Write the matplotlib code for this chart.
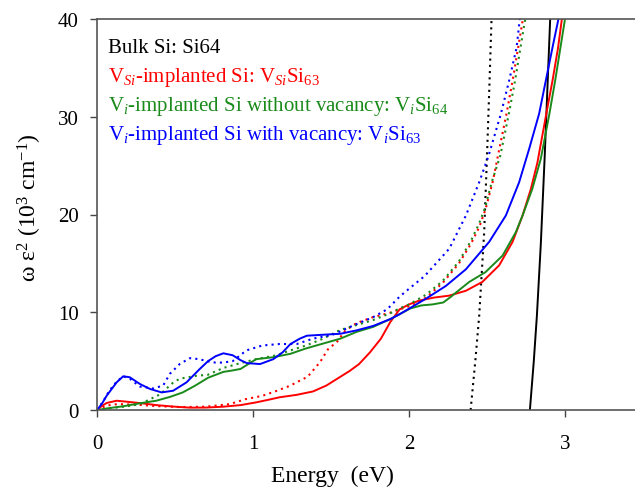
import matplotlib
matplotlib.use("Agg")
import matplotlib.pyplot as plt

plt.rcParams['font.family'] = ['Liberation Serif', 'DejaVu Serif']
plt.rcParams['mathtext.fontset'] = 'custom'
plt.rcParams['mathtext.rm'] = 'Liberation Serif'
plt.rcParams['mathtext.it'] = 'Liberation Serif:italic'
plt.rcParams['mathtext.bf'] = 'Liberation Serif:bold'

# ---- data (energy in eV, omega*eps2 in 10^3 cm^-1) ----
bulk_solid_x = [2.775, 2.80, 2.82, 2.845, 2.87, 2.89, 2.905, 2.915]
bulk_solid_y = [0, 5, 9.7, 17, 26, 34, 40, 44]
bulk_dot_x = [2.395, 2.425, 2.45, 2.482, 2.50, 2.515, 2.529, 2.535]
bulk_dot_y = [0, 5, 9.65, 18.2, 26, 33, 40, 43]

vsi_solid_x = [0, 0.03, 0.062, 0.126, 0.19, 0.28, 0.38, 0.49, 0.595, 0.7, 0.81, 0.92, 1.02, 1.1,
               1.17, 1.28, 1.385, 1.47, 1.56, 1.62, 1.68, 1.75, 1.82, 1.88, 1.94, 2.0, 2.067, 2.16,
               2.258, 2.365, 2.47, 2.578, 2.664, 2.728, 2.781, 2.823, 2.88, 2.92, 2.955, 2.98, 2.99]
vsi_solid_y = [0, 0.4, 0.72, 0.95, 0.85, 0.7, 0.5, 0.35, 0.24, 0.25, 0.34, 0.5, 0.78, 1.05,
               1.3, 1.55, 1.9, 2.5, 3.4, 4.0, 4.7, 5.9, 7.3, 9.0, 10.3, 10.8, 11.2, 11.5,
               11.7, 12.2, 13.1, 14.8, 17.2, 19.9, 22.6, 25.3, 30.3, 33.7, 37.0, 40, 42]
vsi_dot_x = [0, 0.06, 0.13, 0.25, 0.38, 0.53, 0.7, 0.85, 0.95, 1.06, 1.15, 1.24, 1.3, 1.35, 1.43,
             1.48, 1.54, 1.59, 1.665, 1.77, 1.88, 1.94, 2.0, 2.11, 2.216, 2.32, 2.397, 2.45, 2.49,
             2.536, 2.57, 2.625, 2.664, 2.70, 2.73, 2.74]
vsi_dot_y = [0, 0.45, 0.6, 0.55, 0.4, 0.3, 0.34, 0.6, 1.1, 1.45, 1.95, 2.5, 3.0, 3.4, 4.9,
             6.2, 7.0, 8.1, 8.9, 9.5, 9.95, 10.3, 10.6, 11.5, 13.0, 15.0, 17.0, 18.7, 20.5,
             23.3, 26.0, 30.3, 33.7, 37.1, 40, 42]

vi64_solid_x = [0, 0.08, 0.168, 0.28, 0.38, 0.47, 0.55, 0.63, 0.712, 0.81, 0.87, 0.92, 0.97, 1.02,
                1.13, 1.24, 1.34, 1.45, 1.56, 1.665, 1.77, 1.88, 1.94, 2.01, 2.08, 2.15, 2.22, 2.27,
                2.30, 2.386, 2.49, 2.6, 2.685, 2.728, 2.79, 2.845, 2.90, 2.937, 2.97, 3.0, 3.01]
vi64_solid_y = [0, 0.2, 0.38, 0.7, 0.95, 1.35, 1.8, 2.5, 3.3, 3.9, 4.05, 4.2, 4.7, 5.2,
                5.4, 5.75, 6.3, 6.8, 7.3, 8.0, 8.5, 9.3, 9.8, 10.4, 10.7, 10.8, 11.0, 11.6,
                12.0, 13.1, 14.1, 15.8, 18.2, 19.9, 22.6, 25.7, 30.3, 33.7, 37.0, 40, 41]
vi64_dot_x = [0, 0.1, 0.2, 0.275, 0.34, 0.404, 0.488, 0.53, 0.638, 0.71, 0.81, 0.92, 1.02, 1.15,
              1.24, 1.34, 1.45, 1.56, 1.665, 1.77, 1.88, 1.94, 2.0, 2.11, 2.216, 2.32, 2.397, 2.45,
              2.49, 2.53, 2.585, 2.64, 2.68, 2.715, 2.745, 2.755]
vi64_dot_y = [0, 0.2, 0.4, 0.6, 1.1, 1.6, 2.8, 3.2, 3.5, 3.6, 4.3, 4.8, 5.2, 5.6,
              6.1, 6.6, 7.3, 8.2, 8.7, 9.2, 9.9, 10.4, 10.8, 11.8, 13.2, 15.2, 17.3, 19.1,
              20.8, 23.3, 26.0, 30.3, 33.7, 37.1, 40, 42]

vi63_solid_x = [0, 0.03, 0.062, 0.126, 0.168, 0.21, 0.275, 0.34, 0.414, 0.488, 0.574, 0.659, 0.712,
                0.76, 0.81, 0.87, 0.92, 0.96, 1.045, 1.13, 1.19, 1.24, 1.3, 1.345, 1.45, 1.56, 1.665,
                1.77, 1.88, 1.94, 2.11, 2.237, 2.365, 2.514, 2.621, 2.706, 2.77, 2.834, 2.877, 2.92,
                2.958, 2.97]
vi63_solid_y = [0, 0.6, 1.46, 2.83, 3.45, 3.35, 2.66, 2.15, 1.8, 1.97, 2.83, 4.2, 5.0,
                5.5, 5.8, 5.6, 5.1, 4.8, 4.7, 5.2, 5.9, 6.75, 7.3, 7.6, 7.7, 7.8, 8.15,
                8.6, 9.3, 9.8, 11.4, 12.7, 14.4, 17.2, 19.9, 23.3, 26.7, 30.3, 33.7, 37.1,
                40, 41]
vi63_dot_x = [0, 0.04, 0.08, 0.126, 0.168, 0.21, 0.275, 0.36, 0.424, 0.467, 0.53, 0.595, 0.659,
              0.70, 0.76, 0.81, 0.87, 0.958, 1.06, 1.17, 1.28, 1.385, 1.51, 1.665, 1.77, 1.86,
              1.94, 2.0, 2.10, 2.258, 2.365, 2.45, 2.51, 2.589, 2.642, 2.69, 2.71, 2.715]
vi63_dot_y = [0, 0.9, 2.0, 2.9, 3.45, 3.2, 2.4, 2.2, 2.5, 3.7, 4.7, 5.3, 5.2,
              5.0, 4.85, 4.85, 5.0, 6.1, 6.6, 6.75, 6.75, 7.3, 7.7, 8.8, 9.5, 10.3,
              11.6, 12.4, 13.7, 16.5, 19.9, 23.3, 26.0, 30.3, 33.7, 37.1, 40, 41]

legend_labels = [
    "Bulk Si: Si64",
    r"V$_{Si}$-implanted Si: V$_{Si}$Si$_{\mathrm{63}}$",
    r"V$_{i}$-implanted Si without vacancy: V$_{i}$Si$_{\mathrm{64}}$",
    r"V$_{i}$-implanted Si with vacancy: V$_{i}$Si$_{\mathrm{63}}$",
]
colors = ["black", "#ff0000", "#1a8a1a", "#0000ff"]
xticks = [0, 1, 2, 3]
yticks = [0, 10, 20, 30, 40]

# ---- figure ----
fig = plt.figure(figsize=(6.35, 4.89), dpi=100)
ax = fig.add_axes([97 / 635, 78 / 489, 3.5 * 156 / 635, 391 / 489])

series = [
    (bulk_solid_x, bulk_solid_y, bulk_dot_x, bulk_dot_y),
    (vsi_solid_x, vsi_solid_y, vsi_dot_x, vsi_dot_y),
    (vi64_solid_x, vi64_solid_y, vi64_dot_x, vi64_dot_y),
    (vi63_solid_x, vi63_solid_y, vi63_dot_x, vi63_dot_y),
]
for (sx, sy, dx, dy), c in zip(series, colors):
    ax.plot(dx, dy, color=c, lw=1.5, ls=(0, (1, 2.0)), solid_joinstyle='round')
    ax.plot(sx, sy, color=c, lw=1.4, ls='-', solid_joinstyle='round')

ax.set_xlim(0, 3.5)
ax.set_ylim(0, 40)
ax.set_xticks(xticks)
ax.set_yticks(yticks)
ax.tick_params(direction='out', length=5, width=1.0, labelsize=15, color='#444444', pad=8)
ax.tick_params(axis='x', pad=12)
for s in ['left', 'bottom', 'top']:
    ax.spines[s].set_color('#555555')
    ax.spines[s].set_linewidth(1.2)
ax.spines['right'].set_visible(False)

ax.set_xlabel("Energy  (eV)", fontsize=17)
ax.set_ylabel(r"ω ε$^2$ (10$^3$ cm$^{-1}$)", fontsize=17)
ax.xaxis.set_label_coords(0.432, -0.14)
ax.yaxis.set_label_coords(-0.097, 0.52)

ys = [0.916, 0.841, 0.767, 0.693]
for lab, c, yy in zip(legend_labels, colors, ys):
    ax.text(0.02, yy, lab, color=c, fontsize=15, transform=ax.transAxes, va='baseline', ha='left')

fig.savefig("out.png", dpi=100)
